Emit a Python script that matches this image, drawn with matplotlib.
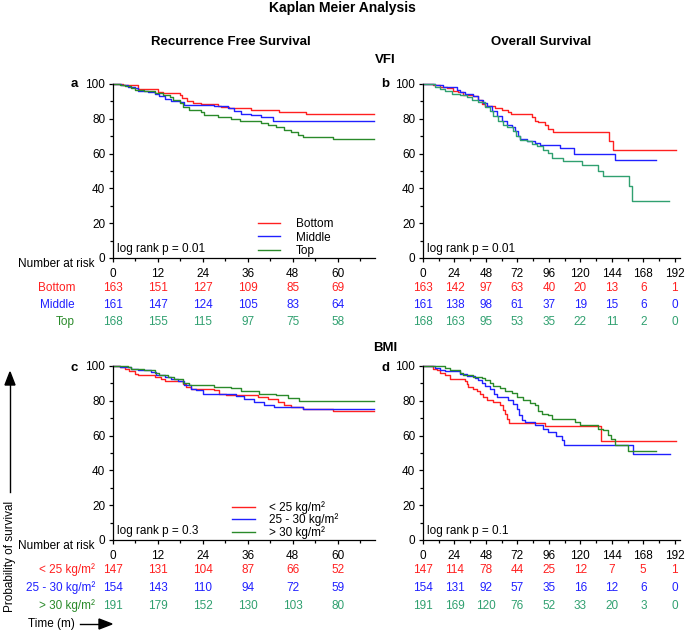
import matplotlib.pyplot as plt
from matplotlib.ticker import MultipleLocator
from matplotlib.transforms import blended_transform_factory

plt.rcParams['font.family'] = ['Liberation Sans', 'DejaVu Sans']
plt.rcParams['font.size'] = 8.5

RED = '#ff2020'
BLUE = '#2020ff'
GREEN = '#2a8a2a'
TEAL = '#30a070'

# ---------------- VFI : recurrence free survival (months, % surviving) -------------
vfi_rfs_bottom_t = [0, 2.7, 6.7, 12, 13.3, 17.8, 18.4, 19.8, 21.3, 23.6, 28, 28.9, 31.1, 36.9, 44.4, 51.6, 69.8]
vfi_rfs_bottom_s = [100, 99.2, 97.3, 95.4, 94.8, 93.9, 92, 90, 89.1, 88.5, 87.5, 86.6, 86.2, 84.9, 83.7, 82.8, 82.8]
vfi_rfs_middle_t = [0, 2.2, 4, 5.8, 6.7, 9.3, 11.1, 12.4, 13.8, 15.6, 17.8, 19.1, 27.1, 30.7, 32.4, 34.2, 36.9, 39.6, 42.7, 69.8]
vfi_rfs_middle_s = [100, 99.4, 98.5, 97.5, 96, 95.2, 94.2, 93.1, 91.6, 90.4, 89.5, 88.1, 87.2, 86.2, 84.3, 82.8, 82, 80.8, 78.9, 78.9]
vfi_rfs_top_t = [0, 1.8, 3.1, 4.9, 5.8, 8.4, 11.1, 13.3, 15.1, 16, 17.8, 18.7, 20.4, 23.6, 24.4, 28, 31.6, 33.8,
                 39.6, 41.3, 43.6, 45.8, 47.6, 49.3, 50.7, 58.7, 69.8]
vfi_rfs_top_s = [100, 99.4, 98.9, 97.7, 96.6, 95.8, 94.8, 93.9, 92.3, 91, 89.1, 86.6, 85.2, 83.9, 82.4, 80.8, 80.1, 78.5,
                 77.6, 76.2, 75.1, 73.8, 72.4, 70.9, 69.5, 68.6, 68.6]

# ---------------- VFI : overall survival -------------
vfi_os_bottom_t = [0, 7.9, 13, 18, 23.1, 26.9, 30.7, 38.3, 42.2, 44.7, 47.2, 54.9, 59.9, 65, 66.8, 82.8, 85.3, 87.9,
                   93, 95.5, 98.8, 142, 145, 193]
vfi_os_bottom_s = [100, 99.2, 98.5, 97.7, 96.2, 95.4, 93.9, 92.9, 91, 88.5, 87.2, 86.2, 84.9, 83.7, 82.8, 80.8, 78.9, 78,
                   76.6, 74.3, 72.4, 67.4, 62.3, 62.3]
vfi_os_middle_t = [0, 9.1, 15.5, 25.7, 28.2, 32, 38.3, 42.2, 46, 48.5, 52.3, 56.1, 59.9, 63.7, 67.6, 70.1, 72.6, 73.9,
                   79, 85.3, 89.1, 104.4, 115, 146.3, 177.5]
vfi_os_middle_s = [100, 99.2, 98.1, 96.7, 95.4, 94.3, 92.9, 91, 89.1, 87.2, 84.3, 81.4, 78.5, 76.6, 75.1, 72.8, 69.9, 68.6,
                   67.4, 66.1, 65.1, 63.2, 60, 56.1, 56.1]
vfi_os_top_t = [0, 9.1, 13, 16.8, 21.8, 28.2, 33.3, 37.1, 42.2, 47.2, 51, 53.6, 57.4, 61.2, 64.3, 68.8, 70.9, 73.9, 79,
                82.8, 86.6, 91.7, 95.5, 98, 106.9, 120.9, 133.6, 137.4, 157.2, 159.7, 187.7]
vfi_os_top_s = [100, 98.5, 97.3, 95.8, 94.3, 93.5, 92.3, 91, 89.7, 86.6, 84.3, 81.4, 78.5, 76.6, 75.1, 73.2, 69.9, 68, 67,
                65.7, 64.2, 62.3, 60.3, 57.5, 55.6, 53.3, 50.2, 47, 41.2, 32.9, 32.9]

# ---------------- BMI : recurrence free survival -------------
bmi_rfs_low_t = [0, 1.8, 3.1, 4.4, 5.8, 6.7, 11.1, 12.9, 13.8, 18.7, 19.6, 20.9, 27.1, 28.4, 30.2, 38.7, 41.3, 44, 45.8,
                 47.6, 50.7, 58.7, 69.8]
bmi_rfs_low_s = [100, 99.4, 98.1, 96.9, 95.6, 94.6, 93.7, 92.7, 91.4, 89.8, 87.9, 87, 86, 84.1, 83.1, 82.2, 80.8, 79.3,
                 77.8, 76.4, 75.5, 73.9, 73.9]
bmi_rfs_mid_t = [0, 1.8, 4.9, 6.7, 10.2, 11.6, 13.8, 15.6, 17.3, 19.1, 20.9, 22.2, 24, 32.9, 35.1, 37.8, 40.4, 43.1, 50.7, 69.8]
bmi_rfs_mid_s = [100, 99.4, 98.5, 97.5, 96.6, 95, 93.7, 92.3, 91.2, 88.9, 87, 86, 83.7, 82.6, 80.8, 79.3, 77.8, 76.4, 75.1, 75.1]
bmi_rfs_high_t = [0, 4, 4.9, 8.4, 11.1, 12.4, 14.7, 16.4, 18.7, 20.4, 27.1, 31.6, 34.2, 39.1, 43.6, 46.7, 49.8, 69.8]
bmi_rfs_high_s = [100, 99.4, 98.5, 97.5, 96.2, 95, 93.7, 92.3, 90.4, 88.9, 87.9, 87.4, 85.4, 84.1, 83.1, 81.8, 79.9, 79.9]

# ---------------- BMI : overall survival -------------
bmi_os_low_t = [0, 7.9, 10.4, 13, 16.8, 20.6, 32, 33.3, 34.5, 38.3, 40.9, 43.4, 46, 48.5, 53.6, 58.7, 61.2, 62.5, 64.3,
                65.8, 93, 136.1, 193.3]
bmi_os_low_s = [100, 98.5, 97.5, 96.2, 94.6, 92.7, 91.4, 89.8, 87.9, 87, 85.4, 84.1, 82.2, 80.3, 79.3, 77.4, 74.5, 72.6,
                69.7, 67.4, 65.5, 57.1, 57.1]
bmi_os_mid_t = [0, 9.1, 13, 16.8, 28.2, 33.3, 39.6, 42.2, 44.7, 47.2, 51, 54.1, 56.6, 65, 68.8, 71.4, 73.4, 75.2, 77.7,
                85.3, 91.7, 95.5, 101.8, 105.7, 107.4, 160.3, 188.2]
bmi_os_mid_s = [100, 98.9, 97.5, 96.9, 95.6, 94.3, 93.1, 91.8, 90.4, 88.5, 86.6, 84.1, 82.2, 80.3, 78.4, 75.5, 71.6, 68.8,
                67.8, 65.9, 64, 62.1, 59.8, 57.3, 54.8, 49.4, 49.4]
bmi_os_high_t = [0, 16.8, 20.6, 28.2, 30.7, 38.3, 44.7, 47.2, 51, 53.6, 58.7, 62.5, 67.6, 71.4, 76.4, 81.5, 85.3, 87.9,
                 90.4, 95.5, 98, 115.8, 119.6, 133.6, 136.9, 141.2, 143.7, 146.3, 156.4, 177.5]
bmi_os_high_s = [100, 98.9, 97.5, 96, 94.6, 93.7, 93.1, 91.8, 90.4, 88.5, 87.4, 85.4, 84.7, 82.2, 80.3, 78.9, 77.4, 74,
                 72.6, 71.6, 69.7, 67.8, 66.3, 64, 63, 60.2, 58.2, 54.8, 51, 51]

# ---------------- number at risk -------------
rfs_times = [0, 12, 24, 36, 48, 60]
os_times = [0, 24, 48, 72, 96, 120, 144, 168, 192]

vfi_labels = ['Bottom', 'Middle', 'Top']
vfi_rfs_risk = [[163, 151, 127, 109, 85, 69],
                [161, 147, 124, 105, 83, 64],
                [168, 155, 115, 97, 75, 58]]
vfi_os_risk = [[163, 142, 97, 63, 40, 20, 13, 6, 1],
               [161, 138, 98, 61, 37, 19, 15, 6, 0],
               [168, 163, 95, 53, 35, 22, 11, 2, 0]]

bmi_labels = ['< 25 kg/m²', '25 - 30 kg/m²', '> 30 kg/m²']
bmi_rfs_risk = [[147, 131, 104, 87, 66, 52],
                [154, 143, 110, 94, 72, 59],
                [191, 179, 152, 130, 103, 80]]
bmi_os_risk = [[147, 114, 78, 44, 25, 12, 7, 5, 1],
               [154, 131, 92, 57, 35, 16, 12, 6, 0],
               [191, 169, 120, 76, 52, 33, 20, 3, 0]]

W, H = 685, 632
fig = plt.figure(figsize=(W / 100, H / 100), dpi=100)


def add_ax(left, top, right, bottom):
    return fig.add_axes([left / W, 1 - bottom / H, (right - left) / W, (bottom - top) / H])


def ftext(x, y, s, **kw):
    fig.text(x / W, 1 - y / H, s, **kw)


def style(ax, xmax, major, minor):
    ax.set_xlim(0, xmax)
    ax.set_ylim(0, 100)
    for side in ('top', 'right'):
        ax.spines[side].set_visible(False)
    for side in ('left', 'bottom'):
        ax.spines[side].set_linewidth(0.9)
    ax.xaxis.set_major_locator(MultipleLocator(major))
    ax.xaxis.set_minor_locator(MultipleLocator(minor))
    ax.yaxis.set_major_locator(MultipleLocator(20))
    ax.yaxis.set_minor_locator(MultipleLocator(10))
    ax.tick_params(which='major', length=3, width=0.9, pad=2.5, labelsize=8.5)
    ax.tick_params(which='minor', length=2, width=0.9)
    ax.tick_params(axis='x', which='major', pad=4)


def risk_rows(ax, times, rows, offsets):
    tr = blended_transform_factory(ax.transData, ax.transAxes)
    for vals, c, off in zip(rows, [RED, BLUE, TEAL], offsets):
        for t, v in zip(times, vals):
            ax.text(t, -off / 174, str(v), color=c, ha='center', va='center',
                    fontsize=8.5, transform=tr)


def row_labels(ax, labels, colors, x_right, offsets):
    for lab, c, off in zip(labels, colors, offsets):
        ax.text(x_right, -off / 174, lab, color=c, ha='right', va='center',
                fontsize=8.5, transform=ax.transAxes)
    ax.text(-0.069, -6 / 174, 'Number at risk', ha='right', va='center',
            fontsize=8.5, transform=ax.transAxes)


top_off = [30, 47, 64]
bot_off = [30, 48, 66]

# panel a
ax_a = add_ax(113, 84, 375, 258)
style(ax_a, 70, 12, 6)
ax_a.step(vfi_rfs_bottom_t, vfi_rfs_bottom_s, where='post', color=RED, lw=1, clip_on=False, label='Bottom')
ax_a.step(vfi_rfs_middle_t, vfi_rfs_middle_s, where='post', color=BLUE, lw=1, clip_on=False, label='Middle')
ax_a.step(vfi_rfs_top_t, vfi_rfs_top_s, where='post', color=GREEN, lw=1, clip_on=False, label='Top')
ax_a.legend(loc='lower left', bbox_to_anchor=(0.53, -0.03), frameon=False, fontsize=8.5,
            handlelength=1.9, handletextpad=1.3, labelspacing=0.15, borderpad=0)
ax_a.text(0.015, 0.05, 'log rank p = 0.01', transform=ax_a.transAxes, fontsize=8.5, va='center')
risk_rows(ax_a, rfs_times, vfi_rfs_risk, top_off)
row_labels(ax_a, vfi_labels, [RED, BLUE, GREEN], -0.145, top_off)

# panel b
ax_b = add_ax(423, 84, 680, 258)
style(ax_b, 196, 24, 12)
ax_b.step(vfi_os_bottom_t, vfi_os_bottom_s, where='post', color=RED, lw=1, clip_on=False)
ax_b.step(vfi_os_middle_t, vfi_os_middle_s, where='post', color=BLUE, lw=1, clip_on=False)
ax_b.step(vfi_os_top_t, vfi_os_top_s, where='post', color=TEAL, lw=1, clip_on=False)
ax_b.text(0.015, 0.05, 'log rank p = 0.01', transform=ax_b.transAxes, fontsize=8.5, va='center')
risk_rows(ax_b, os_times, vfi_os_risk, top_off)

# panel c
ax_c = add_ax(113, 366, 375, 540)
style(ax_c, 70, 12, 6)
ax_c.step(bmi_rfs_low_t, bmi_rfs_low_s, where='post', color=RED, lw=1, clip_on=False, label=bmi_labels[0])
ax_c.step(bmi_rfs_mid_t, bmi_rfs_mid_s, where='post', color=BLUE, lw=1, clip_on=False, label=bmi_labels[1])
ax_c.step(bmi_rfs_high_t, bmi_rfs_high_s, where='post', color=GREEN, lw=1, clip_on=False, label=bmi_labels[2])
ax_c.legend(loc='lower left', bbox_to_anchor=(0.43, -0.03), frameon=False, fontsize=8.5,
            handlelength=2.0, handletextpad=1.2, labelspacing=0.0, borderpad=0)
ax_c.text(0.015, 0.05, 'log rank p = 0.3', transform=ax_c.transAxes, fontsize=8.5, va='center')
risk_rows(ax_c, rfs_times, bmi_rfs_risk, bot_off)
row_labels(ax_c, bmi_labels, [RED, BLUE, GREEN], -0.069, bot_off)

# panel d
ax_d = add_ax(423, 366, 680, 540)
style(ax_d, 196, 24, 12)
ax_d.step(bmi_os_low_t, bmi_os_low_s, where='post', color=RED, lw=1, clip_on=False)
ax_d.step(bmi_os_mid_t, bmi_os_mid_s, where='post', color=BLUE, lw=1, clip_on=False)
ax_d.step(bmi_os_high_t, bmi_os_high_s, where='post', color=GREEN, lw=1, clip_on=False)
ax_d.text(0.015, 0.05, 'log rank p = 0.1', transform=ax_d.transAxes, fontsize=8.5, va='center')
risk_rows(ax_d, os_times, bmi_os_risk, bot_off)

# titles and panel letters
ftext(342, 8, 'Kaplan Meier Analysis', ha='center', va='center', fontsize=10, fontweight='bold')
ftext(231, 42, 'Recurrence Free Survival', ha='center', va='center', fontsize=9.5, fontweight='bold')
ftext(541, 42, 'Overall Survival', ha='center', va='center', fontsize=9.5, fontweight='bold')
ftext(385, 60, 'VFI', ha='center', va='center', fontsize=9.5, fontweight='bold')
ftext(385, 348, 'BMI', ha='center', va='center', fontsize=9.5, fontweight='bold')
for letter, x, y in [('a', 74, 84), ('b', 385, 84), ('c', 74, 368), ('d', 385, 368)]:
    ftext(x, y, letter, ha='center', va='center', fontsize=9.5, fontweight='bold')

# axis captions with arrows
ftext(10, 612, 'Probability of survival', rotation=90, ha='center', va='bottom', fontsize=8.5)
fig.add_artist(plt.Line2D([10 / W, 10 / W], [1 - 492 / H, 1 - 385 / H], color='black', lw=1))
fig.patches.append(plt.Polygon([[5 / W, 1 - 385 / H], [15 / W, 1 - 385 / H], [10 / W, 1 - 372 / H]],
                               closed=True, color='black', transform=fig.transFigure))
ftext(28, 624, 'Time (m)', ha='left', va='center', fontsize=8.5)
fig.add_artist(plt.Line2D([80 / W, 100 / W], [1 - 624 / H, 1 - 624 / H], color='black', lw=1))
fig.patches.append(plt.Polygon([[99 / W, 1 - 619 / H], [99 / W, 1 - 629 / H], [112 / W, 1 - 624 / H]],
                               closed=True, color='black', transform=fig.transFigure))

fig.savefig('out.png', dpi=100)
